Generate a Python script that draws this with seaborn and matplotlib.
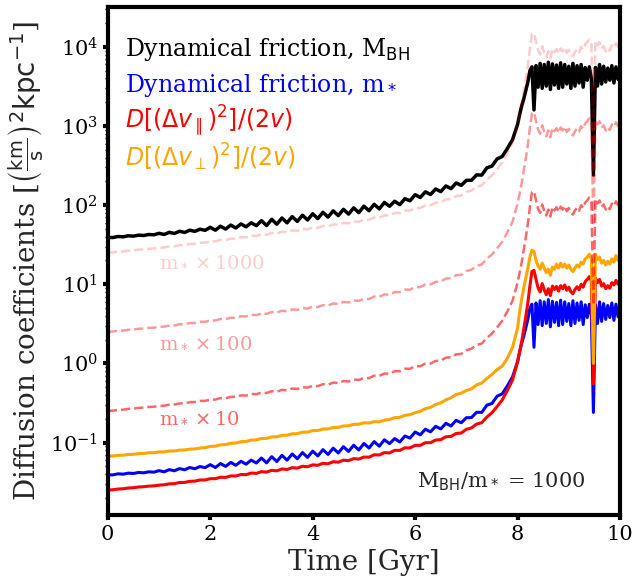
import numpy as np
import pandas as pd
import matplotlib
matplotlib.use("Agg")
import matplotlib.pyplot as plt
import seaborn as sns
from matplotlib.ticker import LogLocator, NullFormatter

# ---------------- data ----------------
time_early = np.round(np.arange(0.0, 8.0, 0.1), 2)      # 80 samples
time_late = np.round(np.arange(8.0, 10.0001, 0.04), 2)  # 51 samples

df_star_early = [0.0390, 0.0390, 0.0402, 0.0398, 0.0410, 0.0406, 0.0418, 0.0414, 0.0426, 0.0422,
                 0.0441, 0.0426, 0.0454, 0.0439, 0.0468, 0.0452, 0.0483, 0.0466, 0.0497, 0.0481,
                 0.0525, 0.0483, 0.0542, 0.0499, 0.0560, 0.0515, 0.0579, 0.0532, 0.0599, 0.0551,
                 0.0637, 0.0553, 0.0662, 0.0575, 0.0688, 0.0598, 0.0716, 0.0623, 0.0746, 0.0649,
                 0.0778, 0.0677, 0.0812, 0.0707, 0.0848, 0.0738, 0.0886, 0.0771, 0.0924, 0.0805,
                 0.0972, 0.0851, 0.1026, 0.0898, 0.1083, 0.0968, 0.1121, 0.1015, 0.1208, 0.1137,
                 0.1357, 0.1250, 0.1473, 0.1363, 0.1601, 0.1485, 0.1749, 0.1617, 0.1908, 0.1777,
                 0.2059, 0.2064, 0.2413, 0.2400, 0.2964, 0.3120, 0.3848, 0.4128, 0.5200, 0.6720]
df_star_late = [1.05, 1.40, 1.80, 2.20, 2.80, 3.60, 5.00, 5.60, 1.60, 5.80,
                3.10, 6.20, 3.00, 6.00, 3.20, 6.40, 2.90, 6.10, 3.30, 5.90,
                3.00, 6.30, 3.10, 6.00, 3.40, 5.70, 3.00, 6.20, 3.20, 5.80,
                3.50, 6.00, 3.10, 5.50, 3.80, 5.60, 4.00, 0.24, 5.50, 3.20,
                6.00, 3.40, 5.70, 3.60, 5.40, 3.80, 5.80, 3.50, 5.60, 3.90,
                5.30]

d_par_early = [0.0250, 0.0253, 0.0258, 0.0260, 0.0266, 0.0268, 0.0274, 0.0276, 0.0281, 0.0283,
               0.0289, 0.0292, 0.0300, 0.0302, 0.0312, 0.0313, 0.0323, 0.0325, 0.0336, 0.0336,
               0.0349, 0.0349, 0.0364, 0.0362, 0.0378, 0.0377, 0.0394, 0.0392, 0.0411, 0.0407,
               0.0428, 0.0423, 0.0445, 0.0438, 0.0463, 0.0456, 0.0481, 0.0475, 0.0501, 0.0494,
               0.0522, 0.0515, 0.0546, 0.0538, 0.0572, 0.0564, 0.0598, 0.0590, 0.0626, 0.0617,
               0.0655, 0.0652, 0.0700, 0.0695, 0.0745, 0.0738, 0.0796, 0.0795, 0.0856, 0.0855,
               0.0921, 0.0921, 0.0994, 0.0995, 0.1074, 0.1085, 0.1181, 0.1195, 0.1302, 0.1318,
               0.1470, 0.1530, 0.1710, 0.1780, 0.2100, 0.2380, 0.2850, 0.3450, 0.4550, 0.6150]
d_par_late = [1.05, 1.40, 1.90, 2.70, 3.90, 5.80, 9.50, 14.5, 15.0, 11.5,
              9.0, 8.0, 10.2, 8.5, 7.4, 8.8, 7.2, 9.5, 8.6, 9.4,
              8.2, 9.6, 8.8, 9.8, 8.4, 9.2, 8.0, 7.6, 8.6, 9.3,
              8.5, 10.0, 9.2, 10.8, 11.5, 12.5, 11.0, 0.55, 12.0, 10.5,
              11.5, 9.5, 10.2, 8.8, 9.6, 8.9, 10.5, 9.8, 11.2, 10.0,
              11.5]

d_perp_early = [0.0670, 0.0676, 0.0688, 0.0692, 0.0706, 0.0709, 0.0724, 0.0726, 0.0742, 0.0743,
                0.0760, 0.0761, 0.0780, 0.0781, 0.0801, 0.0804, 0.0825, 0.0829, 0.0852, 0.0860,
                0.0892, 0.0899, 0.0934, 0.0941, 0.0978, 0.0985, 0.1024, 0.1030, 0.1072, 0.1078,
                0.1123, 0.1128, 0.1176, 0.1180, 0.1232, 0.1236, 0.1289, 0.1293, 0.1349, 0.1354,
                0.1412, 0.1418, 0.1478, 0.1484, 0.1547, 0.1555, 0.1620, 0.1627, 0.1696, 0.1703,
                0.1776, 0.1764, 0.1833, 0.1824, 0.1919, 0.1953, 0.2060, 0.2082, 0.2202, 0.2250,
                0.2384, 0.2478, 0.2677, 0.2776, 0.3020, 0.3172, 0.3464, 0.3668, 0.4040, 0.4213,
                0.4545, 0.4760, 0.5350, 0.5650, 0.6460, 0.7240, 0.8380, 0.9220, 1.1600, 1.5900]
d_perp_late = [2.8, 4.5, 6.5, 9.0, 12.0, 16.0, 22.0, 27.0, 26.0, 20.0,
               17.0, 15.5, 18.5, 16.0, 14.0, 15.5, 13.0, 16.5, 15.5, 18.0,
               16.0, 18.5, 16.5, 18.0, 16.0, 17.5, 15.5, 14.5, 16.0, 17.5,
               16.5, 19.0, 18.0, 21.0, 22.0, 24.0, 21.0, 1.0, 24.0, 20.5,
               22.0, 18.5, 20.0, 17.5, 19.5, 18.0, 21.0, 19.0, 23.0, 20.0,
               24.0]

mass_ratio = 1000                  # M_BH / m_*
star_mass_factors = [10, 100, 1000]
factor_alphas = [0.6, 0.4, 0.2]
factor_label_y = [0.204, 1.82, 19.3]

time = np.concatenate([time_early, time_late])
df_star = np.array(df_star_early + df_star_late)
df_bh = df_star * mass_ratio
d_par = np.array(d_par_early + d_par_late)
d_perp = np.array(d_perp_early + d_perp_late)

# ---------------- style ----------------
sns.set_style("ticks")
plt.rcParams["font.family"] = ["DejaVu Serif"]
plt.rcParams["mathtext.fontset"] = "dejavusans"

fig = plt.figure(figsize=(6.34, 5.82), dpi=100)
ax = fig.add_axes([0.170, 0.115, 0.808, 0.873])

lw = 2.2
sns.lineplot(x=time, y=df_bh, ax=ax, color="black", lw=2.5, sort=False)
sns.lineplot(x=time, y=df_star, ax=ax, color="blue", lw=lw, sort=False)
sns.lineplot(x=time, y=d_par, ax=ax, color="red", lw=lw, sort=False)
sns.lineplot(x=time, y=d_perp, ax=ax, color="orange", lw=lw, sort=False)

for fac, al, ly in zip(star_mass_factors, factor_alphas, factor_label_y):
    sns.lineplot(x=time, y=d_par * fac, ax=ax, color="red", alpha=al, lw=1.8,
                 linestyle="--", sort=False)
    ax.text(1.0, ly, r"m$_*\times$" + str(fac), color="red", alpha=al,
            fontsize=14, ha="left", va="center")

ax.set_yscale("log")
ax.set_xlim(0, 10)
ax.set_ylim(0.0121, 3.2e4)
ax.set_xticks([0, 2, 4, 6, 8, 10])
ax.yaxis.set_major_locator(LogLocator(base=10, numticks=20))
ax.yaxis.set_minor_locator(LogLocator(base=10, subs=np.arange(2, 10), numticks=100))
ax.yaxis.set_minor_formatter(NullFormatter())

for s in ax.spines.values():
    s.set_linewidth(3)
    s.set_color("black")
    s.set_visible(True)
ax.tick_params(axis="both", which="major", direction="out", length=3.5, width=3,
               labelsize=15, colors="black")
ax.tick_params(axis="both", which="minor", direction="out", length=2, width=1,
               colors="black")

ax.set_xlabel("Time [Gyr]", fontsize=20, labelpad=4)
ax.set_ylabel(r"Diffusion coefficients [$\left(\frac{\rm km}{s}\right)^2{\rm kpc}^{-1}$]",
              fontsize=20, labelpad=3)

legend_items = [
    ("Dynamical friction, M$_{\\rm BH}$", "black", 0.917),
    ("Dynamical friction, m$_*$", "blue", 0.845),
    (r"$D[(\Delta v_\parallel)^2]/(2v)$", "red", 0.775),
    (r"$D[(\Delta v_\perp)^2]/(2v)$", "orange", 0.705),
]
for txt, col, yy in legend_items:
    ax.text(0.033, yy, txt, color=col, fontsize=17, transform=ax.transAxes,
            ha="left", va="center")

ax.text(0.932, 0.065, r"M$_{\rm BH}$/m$_*$ = 1000", fontsize=15,
        transform=ax.transAxes, ha="right", va="center")

fig.savefig("out.png", dpi=100)
